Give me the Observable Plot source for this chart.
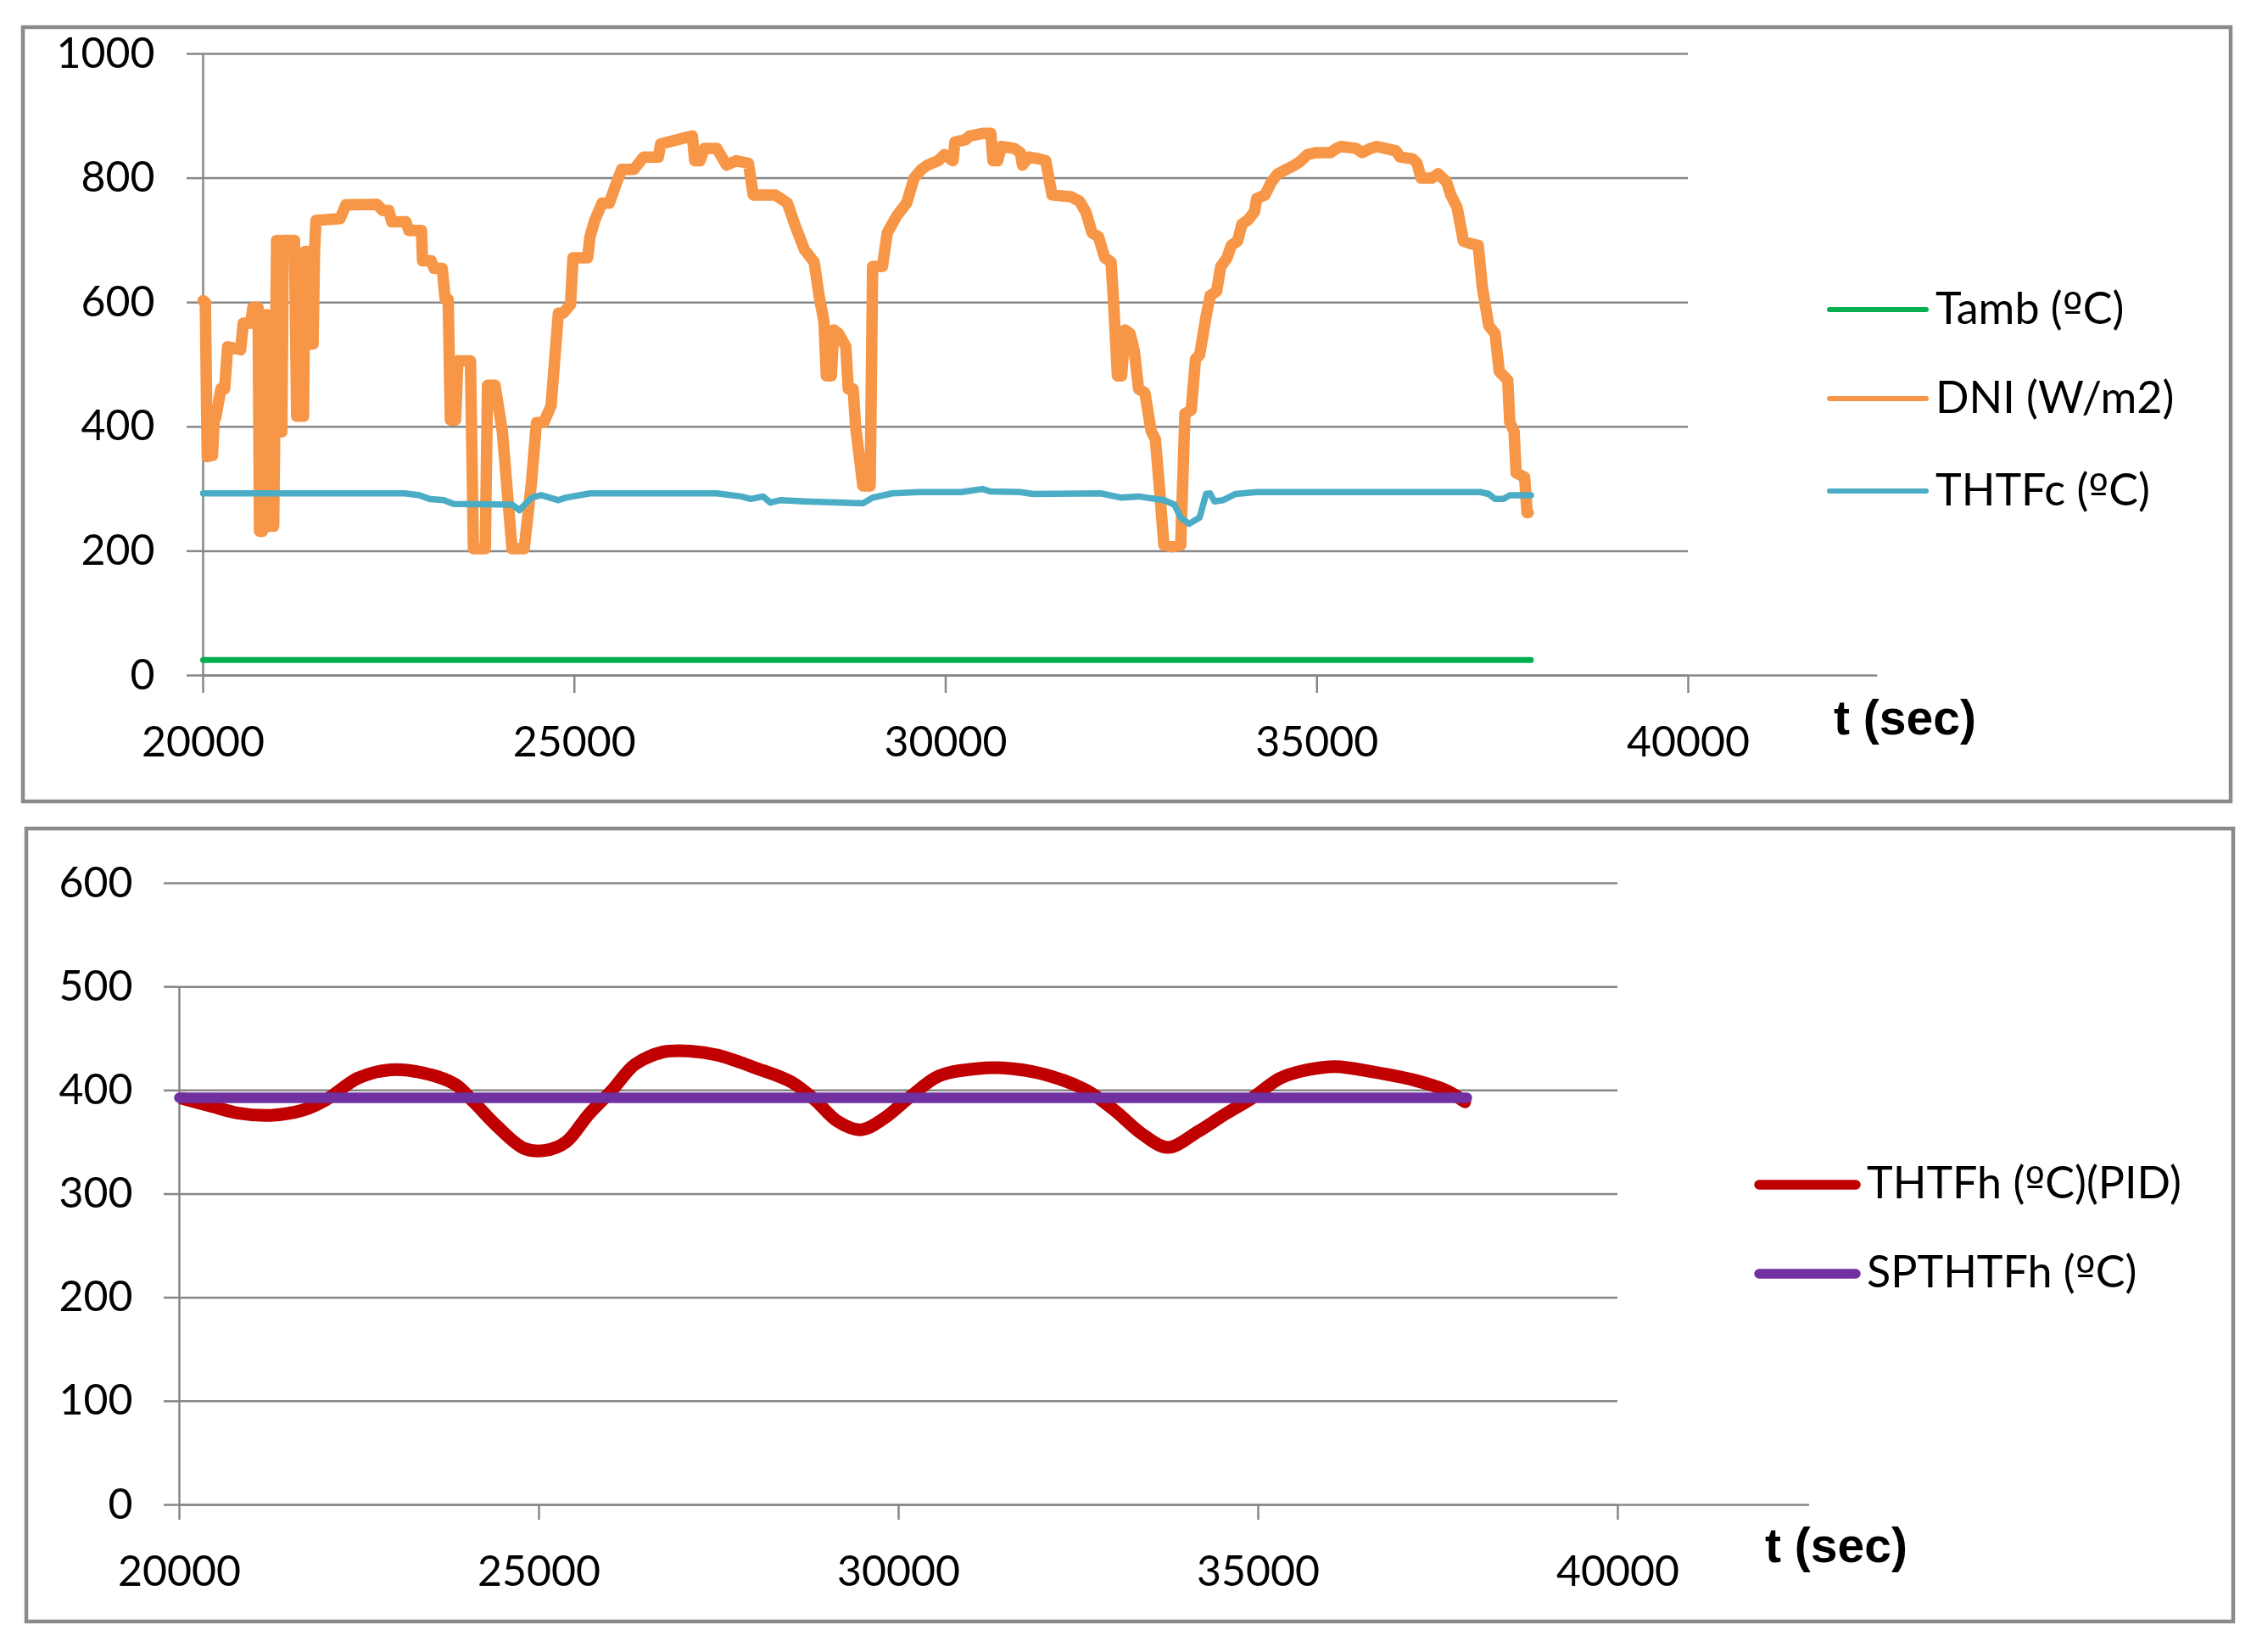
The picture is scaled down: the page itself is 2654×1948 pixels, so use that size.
<!DOCTYPE html>
<html>
<head>
<meta charset="utf-8">
<script src="https://cdn.jsdelivr.net/npm/d3@7"></script>
<script src="https://cdn.jsdelivr.net/npm/@observablehq/plot@0.6"></script>
<style>
  html, body { margin: 0; padding: 0; background: #fff; }
  #page { position: relative; width: 2654px; height: 1948px; overflow: hidden; background: #fff; }
  svg { overflow: visible; }
</style>
</head>
<body>
<div id="page"></div>
<script>
// ---------------- DATA ----------------
const xTicks = [20000, 25000, 30000, 35000, 40000];
const topYTicks = [0, 200, 400, 600, 800, 1000];
const bottomYTicks = [0, 100, 200, 300, 400, 500, 600];

const tambT = [20000, 37880];
const tambV = [25, 25];

const dniT = [20000,20030,20055,20126,20150,20170,20240,20290,20330,20506,20540,20640,20670,20740,20760,20800,20830,20870,20900,20950,20990,21010,21035,21060,21080,21230,21260,21352,21371,21400,21420,21480,21500,21520,21845,21922,22340,22420,22500,22540,22730,22770,22940,22955,23070,23110,23220,23260,23300,23330,23400,23430,23600,23640,23800,23830,23930,24029,24160,24324,24423,24489,24588,24686,24784,24850,24948,24981,25178,25210,25276,25374,25470,25571,25637,25800,25932,26130,26162,26392,26588,26621,26690,26752,26916,27048,27179,27343,27409,27704,27868,27966,28098,28229,28295,28360,28393,28460,28492,28557,28655,28688,28754,28787,28885,28983,29016,29148,29213,29344,29475,29574,29672,29756,29898,29983,30097,30125,30267,30324,30494,30608,30636,30700,30750,30920,31006,31034,31119,31261,31347,31432,31688,31801,31886,31972,32057,32142,32227,32256,32313,32369,32415,32483,32540,32597,32682,32767,32824,32881,32938,33051,33165,33222,33307,33364,33420,33506,33562,33648,33705,33790,33847,33932,33989,34074,34159,34188,34301,34387,34472,34586,34699,34784,34870,34983,35182,35267,35324,35523,35608,35722,35807,36063,36119,36290,36347,36404,36546,36631,36745,36802,36887,36972,37057,37171,37228,37313,37398,37455,37569,37597,37654,37682,37796,37830,37845];
const dniV = [603,600,352,354,415,415,461,461,529,524,567,567,592,592,232,232,580,580,240,240,700,700,392,392,700,700,417,417,682,682,533,533,682,732,735,757,758,748,748,730,730,716,716,667,667,655,655,605,605,411,411,506,506,204,204,467,467,393,204,204,312,407,407,434,583,583,597,672,672,706,733,760,760,794,814,814,834,834,855,862,868,828,828,848,848,821,828,824,773,773,760,726,685,665,611,570,482,482,556,550,529,461,461,400,305,305,658,658,712,740,760,800,814,821,828,838,828,858,862,868,872,872,828,828,851,848,841,821,834,831,828,773,770,763,746,712,706,672,665,611,482,482,556,550,522,461,455,393,380,298,210,207,210,421,427,509,516,577,611,618,658,672,692,699,726,733,746,767,773,794,807,814,821,828,838,841,841,848,851,848,841,848,851,844,834,831,824,800,800,807,794,773,753,699,695,692,624,563,550,489,475,407,393,326,319,262,262];

const thtfcT = [20000,21733,22717,22913,23045,23242,23373,24160,24258,24423,24554,24784,24882,25210,26916,27244,27376,27540,27638,27769,28098,28885,29016,29279,29642,30210,30494,30608,31006,31176,32085,32369,32597,32938,33080,33165,33279,33420,33506,33560,33619,33733,33903,34188,37199,37313,37398,37512,37597,37881];
const thtfcV = [293,293,293,290,284,282,276,275,266,286,290,282,286,293,293,288,284,288,278,282,280,277,286,293,295,295,300,296,295,292,293,286,288,282,275,254,244,254,292,293,280,282,292,295,295,292,284,284,290,290];

const thtfhT = [20051,20436,20821,21269,21718,22038,22487,22936,23384,23833,24090,24410,24795,25077,25372,25692,26013,26333,26718,27102,27487,27999,28512,28833,29154,29474,29795,30179,30564,31077,31590,32103,32615,33000,33385,33743,34154,34538,34923,35308,35692,36077,36590,37167,37615,37872];
const thtfhV = [392,385,378,376,381,391,412,420,417,406,389,366,344,342,350,377,400,425,437,438,434,422,408,391,370,362,373,395,414,421,421,414,400,381,358,345,360,377,393,412,420,423,418,410,400,389];

const spT = [20000, 37900];
const spV = [393, 393];

// ---------------- BUILD ----------------
const toRows = (T, V) => T.map((t, i) => ({t, v: V[i]}));
const tambRows = toRows(tambT, tambV);
const dniRows = toRows(dniT, dniV);
const thtfcRows = toRows(thtfcT, thtfcV);
const thtfhRows = toRows(thtfhT, thtfhV);
const spRows = toRows(spT, spV);

const GRID = "#878787";
const FONT = "Lato, 'Open Sans', sans-serif";
const fmt = d => String(d);
const baseStyle = `background: transparent; overflow: visible; max-width: none; font-family: ${FONT}; color: #000;`;

const topChart = Plot.plot({
  width: 2654, height: 960,
  marginTop: 63, marginBottom: 164, marginLeft: 239, marginRight: 664,
  x: {domain: [20000, 40000]},
  y: {domain: [0, 1000]},
  style: baseStyle,
  marks: [
    Plot.gridY(topYTicks, {stroke: GRID, strokeOpacity: 1, strokeWidth: 2.5}),
    Plot.axisY(topYTicks, {tickSize: 19, tickPadding: 38, stroke: GRID, strokeWidth: 2.5, fill: "#000", fontSize: 50, tickFormat: fmt, label: null}),
    Plot.axisX(xTicks, {tickSize: 21, tickPadding: 39, stroke: GRID, strokeWidth: 2.5, fill: "#000", fontSize: 50, tickFormat: fmt, label: null}),
    Plot.ruleY([0], {x1: 20000, x2: 42550, stroke: GRID, strokeWidth: 2.5}),
    Plot.ruleX([20000], {y1: 0, y2: 1000, stroke: GRID, strokeWidth: 2.5}),
    Plot.line(tambRows, {x: "t", y: "v", stroke: "#00b050", strokeWidth: 7}),
    Plot.line(dniRows, {x: "t", y: "v", stroke: "#f79646", strokeWidth: 13.5}),
    Plot.line(thtfcRows, {x: "t", y: "v", stroke: "#4bacc6", strokeWidth: 7.5})
  ]
});

const bottomChart = Plot.plot({
  width: 2654, height: 988,
  marginTop: 81, marginBottom: 174, marginLeft: 211, marginRight: 747,
  x: {domain: [20000, 40000]},
  y: {domain: [0, 600]},
  style: baseStyle,
  marks: [
    Plot.gridY(bottomYTicks, {stroke: GRID, strokeOpacity: 1, strokeWidth: 2.5}),
    Plot.axisY(bottomYTicks, {tickSize: 18, tickPadding: 37, stroke: GRID, strokeWidth: 2.5, fill: "#000", fontSize: 50, tickFormat: fmt, label: null}),
    Plot.axisX(xTicks, {tickSize: 18, tickPadding: 42, stroke: GRID, strokeWidth: 2.5, fill: "#000", fontSize: 50, tickFormat: fmt, label: null}),
    Plot.ruleY([0], {x1: 20000, x2: 42665, stroke: GRID, strokeWidth: 2.5}),
    Plot.ruleX([20000], {y1: 0, y2: 500, stroke: GRID, strokeWidth: 2.5}),
    Plot.line(thtfhRows, {x: "t", y: "v", stroke: "#c00000", strokeWidth: 15, curve: "catmull-rom"}),
    Plot.line(spRows, {x: "t", y: "v", stroke: "#7030a0", strokeWidth: 12.5})
  ]
});

const page = document.getElementById("page");
topChart.style.position = "absolute"; topChart.style.left = "0px"; topChart.style.top = "0px";
bottomChart.style.position = "absolute"; bottomChart.style.left = "0px"; bottomChart.style.top = "960px";
page.appendChild(topChart);
page.appendChild(bottomChart);

// overlay: frames, legends, axis titles
const NS = "http://www.w3.org/2000/svg";
const ov = document.createElementNS(NS, "svg");
ov.setAttribute("width", 2654); ov.setAttribute("height", 1948);
ov.style.position = "absolute"; ov.style.left = "0px"; ov.style.top = "0px";
page.appendChild(ov);
function el(tag, attrs, text, parent) {
  const e = document.createElementNS(NS, tag);
  for (const k in attrs) e.setAttribute(k, attrs[k]);
  if (text != null) e.textContent = text;
  (parent || ov).appendChild(e);
  return e;
}
function label(x, y, str, size) {
  const t = el("text", {x, y, "font-family": FONT, "font-size": size, fill: "#000"});
  for (const part of str.split(/(º)/)) {
    if (!part) continue;
    if (part === "º") el("tspan", {"font-family": "'DejaVu Sans', 'Noto Sans', sans-serif", "font-size": size * 0.98}, part, t);
    else el("tspan", {}, part, t);
  }
}
// panel frames
el("rect", {x: 27, y: 32, width: 2603, height: 913, fill: "none", stroke: "#8a8a8a", "stroke-width": 4.5});
el("rect", {x: 31, y: 977, width: 2602, height: 935, fill: "none", stroke: "#8a8a8a", "stroke-width": 4.5});

const legendTop = [
  {label: "Tamb (ºC)", color: "#00b050", y: 365},
  {label: "DNI (W/m2)", color: "#f79646", y: 470},
  {label: "THTFc (ºC)", color: "#4bacc6", y: 579}
];
for (const d of legendTop) {
  el("line", {x1: 2157, x2: 2271, y1: d.y, y2: d.y, stroke: d.color, "stroke-width": 6, "stroke-linecap": "round"});
  label(2282, d.y + 17, d.label, 52);
}
const legendBottom = [
  {label: "THTFh (ºC)(PID)", color: "#c00000", y: 1397},
  {label: "SPTHTFh (ºC)", color: "#7030a0", y: 1502}
];
for (const d of legendBottom) {
  el("line", {x1: 2074, x2: 2188, y1: d.y, y2: d.y, stroke: d.color, "stroke-width": 11.5, "stroke-linecap": "round"});
  label(2201, d.y + 16, d.label, 52);
}
el("text", {x: 2162, y: 866, "font-family": "'Liberation Sans', Arial, sans-serif", "font-size": 57, "font-weight": "bold", fill: "#000"}, "t (sec)");
el("text", {x: 2081, y: 1842, "font-family": "'Liberation Sans', Arial, sans-serif", "font-size": 57, "font-weight": "bold", fill: "#000"}, "t (sec)");
</script>
</body>
</html>
